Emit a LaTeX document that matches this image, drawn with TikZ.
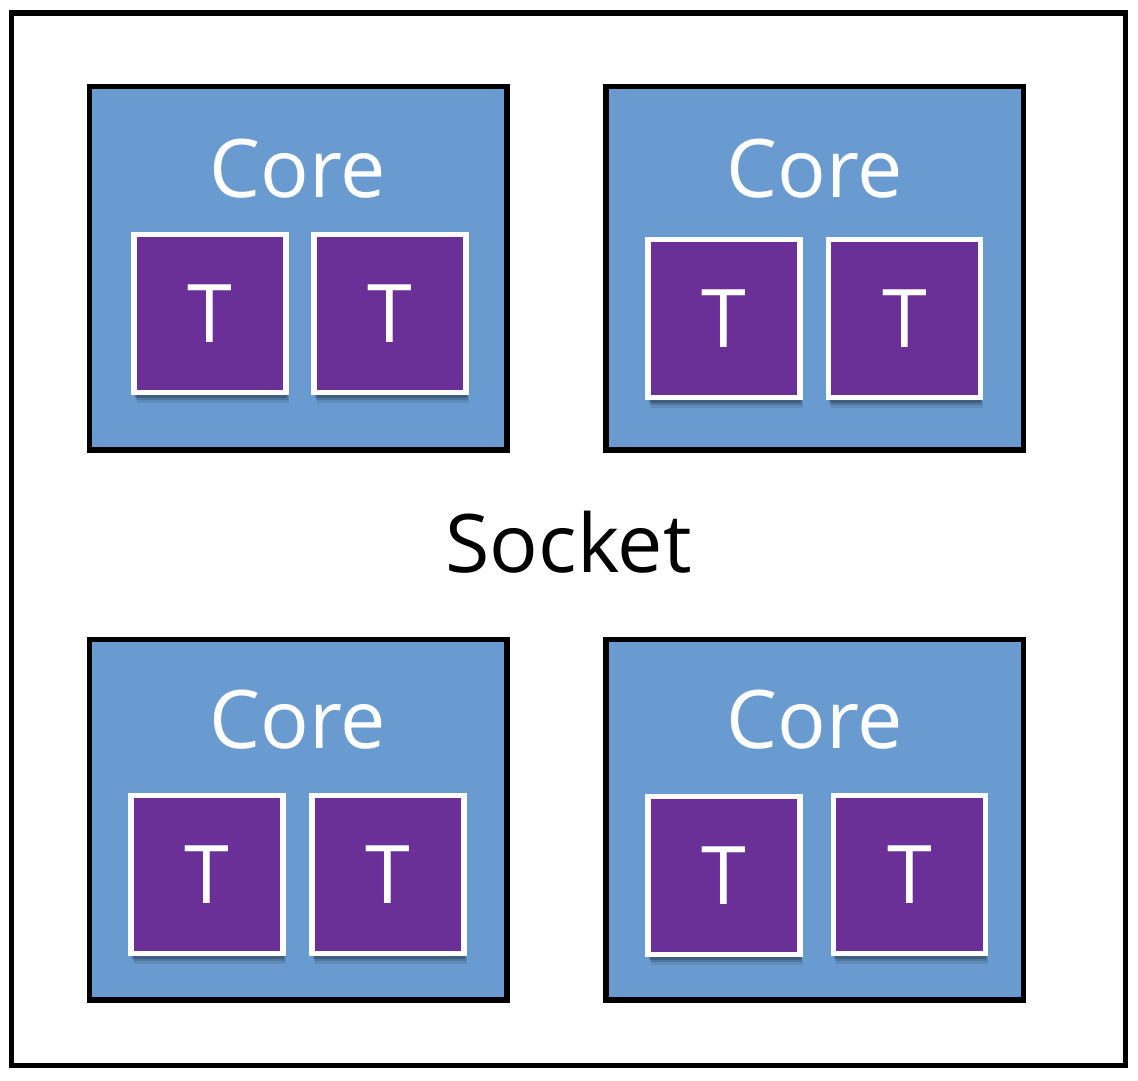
\documentclass[tikz,border=0pt]{standalone}
\usepackage{fontspec}
\setmainfont{Open Sans}
\usetikzlibrary{shadows}

\definecolor{coreblue}{RGB}{106,155,208}
\definecolor{threadpurple}{RGB}{106,48,152}

\begin{document}
\begin{tikzpicture}[x=0.02cm, y=-0.02cm,
    core/.style={draw=black, line width=3.1pt, fill=coreblue},
    thread/.style={draw=white, line width=2.9pt, fill=threadpurple,
      minimum width=3.04cm, minimum height=3.16cm, inner sep=0pt,
      text=white, font=\fontsize{46}{55}\selectfont,
      drop shadow={shadow xshift=1.5pt, shadow yshift=-6pt, opacity=0.10, fill=black},
      drop shadow={shadow xshift=1pt, shadow yshift=-4.5pt, opacity=0.14, fill=black},
      drop shadow={shadow xshift=0.5pt, shadow yshift=-3pt, opacity=0.2, fill=black}},
    label/.style={anchor=base, font=\fontsize{46}{55}\selectfont, inner sep=0pt}]
  \useasboundingbox (0,0) rectangle (1138,1080);

  % Draw the socket
  \draw[line width=3.1pt] (11.5,13) rectangle (1125.5,1065.5);

  % Draw the four cores
  \draw[core] (89.5,86.5) rectangle (507,450);
  \draw[core] (606,86.5) rectangle (1023.5,450);
  \draw[core] (89.5,639.5) rectangle (507,1000);
  \draw[core] (606,639.5) rectangle (1023.5,1000);

  \node[label, text=white] (core1) at (298,197) {Core};
  \node[label, text=white] (core2) at (815,197) {Core};
  \node[label, text=white] (core3) at (298,748) {Core};
  \node[label, text=white] (core4) at (815,748) {Core};

  % Two threads on each core
  \node[thread] (t1a) at (210,313.5) {T};
  \node[thread] (t1b) at (390,313.5) {T};
  \node[thread] (t2a) at (724,318.5) {T};
  \node[thread] (t2b) at (904.5,318.5) {T};
  \node[thread] (t3a) at (207,874.5) {T};
  \node[thread] (t3b) at (388,874.5) {T};
  \node[thread] (t4a) at (724,875.5) {T};
  \node[thread] (t4b) at (909.5,874.5) {T};

  \node[label] (socket) at (568.5,572) {Socket};

\end{tikzpicture}
\end{document}
